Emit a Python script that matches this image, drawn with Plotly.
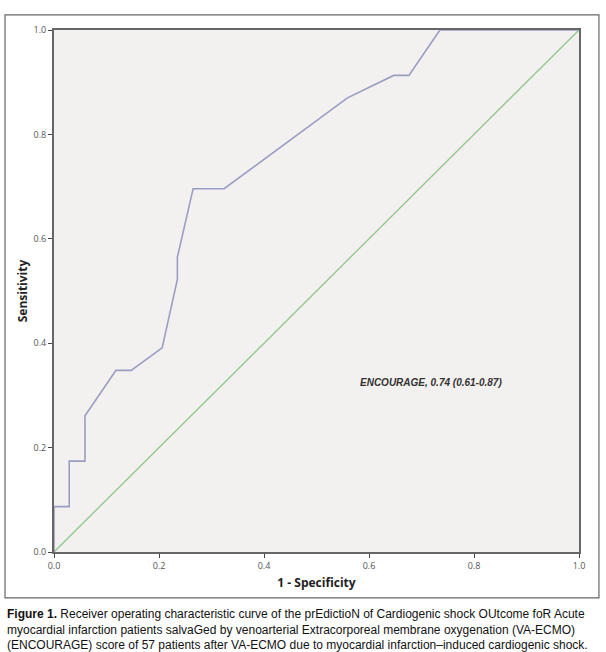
import plotly.graph_objects as go

# ROC curve
fpr = [0.0, 0.0, 0.029, 0.029, 0.059, 0.059, 0.118, 0.147, 0.206, 0.235, 0.235,
       0.265, 0.324, 0.559, 0.647, 0.676, 0.735, 1.0]
tpr = [0.0, 0.087, 0.087, 0.174, 0.174, 0.261, 0.348, 0.348, 0.391, 0.522, 0.565,
       0.696, 0.696, 0.870, 0.913, 0.913, 1.0, 1.0]
ref_x = [0.0, 1.0]
ref_y = [0.0, 1.0]
tick_vals = [0.0, 0.2, 0.4, 0.6, 0.8, 1.0]
tick_text = ["0.0", "0.2", "0.4", "0.6", "0.8", "1.0"]

label_text = "ENCOURAGE, 0.74 (0.61-0.87)"
caption_lines = [
    "<b>Figure 1.</b> Receiver operating characteristic curve of the prEdictioN of Cardiogenic shock OUtcome foR Acute",
    "myocardial infarction patients salvaGed by venoarterial Extracorporeal membrane oxygenation (VA-ECMO)",
    "(ENCOURAGE) score of 57 patients after VA-ECMO due to myocardial infarction\u2013induced cardiogenic shock.",
]

fig = go.Figure()
fig.add_trace(go.Scatter(x=ref_x, y=ref_y, mode="lines",
                         line=dict(color="#93c98e", width=1.4), hoverinfo="skip"))
fig.add_trace(go.Scatter(x=fpr, y=tpr, mode="lines",
                         line=dict(color="#9a9cc3", width=1.6)))

axis_common = dict(
    range=[0, 1], tickvals=tick_vals, ticktext=tick_text,
    ticks="outside", ticklen=4, tickwidth=1.2, tickcolor="#444",
    showline=True, linecolor="#666", linewidth=2, mirror=True,
    showgrid=False, zeroline=False,
    tickfont=dict(family="Open Sans", size=9, color="#555"),
)
fig.update_xaxes(**axis_common,
                 title=dict(text="<b>1 - Specificity</b>",
                            font=dict(family="Open Sans", size=12, color="#222"),
                            standoff=8))
fig.update_yaxes(**axis_common,
                 title=dict(text="<b>Sensitivity</b>",
                            font=dict(family="Open Sans", size=12, color="#222"),
                            standoff=3))

annotations = [
    dict(x=0.579, y=0.324, xref="paper", yref="paper", xanchor="left", yanchor="middle",
         text="<b><i>" + label_text + "</i></b>", showarrow=False,
         font=dict(family="Liberation Sans", size=10, color="#333")),
]
cap_y = [-0.119, -0.1485, -0.178]
for line, yy in zip(caption_lines, cap_y):
    annotations.append(dict(x=-0.093, y=yy, xref="paper", yref="paper",
                            xanchor="left", yanchor="middle", text=line,
                            showarrow=False,
                            font=dict(family="Liberation Sans", size=12, color="#111")))

fig.update_layout(
    width=606, height=652,
    margin=dict(l=54, r=27, t=30, b=100),
    paper_bgcolor="white", plot_bgcolor="#f3f1ef",
    showlegend=False,
    annotations=annotations,
    shapes=[dict(type="rect", xref="paper", yref="paper",
                 x0=-0.0933, x1=1.038, y0=-0.088, y1=1.029,
                 line=dict(color="#666", width=1.2), fillcolor="rgba(0,0,0,0)",
                 layer="below")],
)

fig.write_html("out.html", config={"displayModeBar": False},
               post_script="document.body.style.margin='0';document.body.style.overflow='hidden';")
